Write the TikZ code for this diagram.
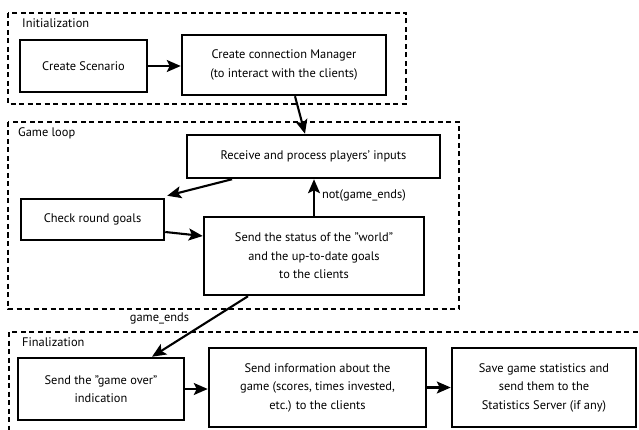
\documentclass[tikz,border=0pt]{standalone}
\usepackage{fontspec}
\setmainfont{PT Sans}
\usetikzlibrary{arrows.meta,positioning}
\tikzset{stepbox/.style={draw, line width=2.5pt, align=center, inner sep=2pt, font=\fontsize{12.4}{18.5}\selectfont},
phase/.style={draw, line width=2.4pt, dash pattern=on 5pt off 3.5pt},
phaselabel/.style={anchor=west, inner sep=0pt, font=\fontsize{12.4}{14}\selectfont},
%arrow tip looks like a filled stealth
flow/.style={-{Stealth[length=14pt,width=12pt,inset=3pt]}, line width=2.1pt}}

\begin{document}
\begin{tikzpicture}[x=1pt, y=-1pt]
\useasboundingbox (0,0) rectangle (639,430);
\clip (0,0) rectangle (639,430);

% the three phases
\draw[phase] (8,13) rectangle (406,104);
\draw[phase] (8,122) rectangle (459,309);
\draw[phase] (9,332) rectangle (660,450);
\node[phaselabel] (initlbl) at (22,23) {Initialization};
\node[phaselabel] (looplbl) at (18,133) {Game loop};
\node[phaselabel] (finlbl) at (22,342) {Finalization};

% initialization
\node[stepbox, minimum width=127pt, minimum height=52pt] (scen) at (83.5,66) {Create Scenario};
\node[stepbox, minimum width=204pt, minimum height=60pt] (cm) at (284,65) {Create connection Manager\\(to interact with the clients)};

% game loop
\node[stepbox, minimum width=253pt, minimum height=43pt] (recv) at (313.5,156.5) {Receive and process players’ inputs};
\node[stepbox, minimum width=143pt, minimum height=41pt] (check) at (92.5,219.5) {Check round goals};
\node[stepbox, minimum width=220pt, minimum height=78pt] (status) at (314,256) {Send the status of the "world"\\and the up-to-date goals\\to the clients};

% finalization
\node[stepbox, minimum width=166pt, minimum height=62pt] (over) at (101,389) {Send the "game over"\\indication};
\node[stepbox, minimum width=217pt, minimum height=79pt] (info) at (317.5,387.5) {Send information about the\\game (scores, times invested,\\etc.) to the clients};
\node[stepbox, minimum width=184pt, minimum height=79pt] (save) at (544,387.5) {Save game statistics and\\send them to the\\Statistics Server (if any)};

\draw[flow] (scen.east) -- (scen.east -| cm.west);
\draw[flow] ([xshift=11pt]cm.south) -- ([xshift=-8.5pt]recv.north);
\draw[flow] ([xshift=-81.5pt]recv.south) -- ([shift={(2pt,2pt)}]check.north east);
\draw[flow] ([yshift=-12.5pt]check.east) -- ([yshift=20pt]status.west);
\draw[flow] (status.north) -- (status.north |- recv.south) node[pos=0.56, right=6pt, inner sep=1pt, font=\fontsize{12.4}{14}\selectfont] {not(game\_ends)};
\draw[flow] ([xshift=-66pt]status.south) -- ([xshift=51pt]over.north) node[pos=0.37, left=19pt, font=\fontsize{12.4}{14}\selectfont] {game\_ends};
\draw[flow] (over.east) -- (over.east -| info.west);
\draw[flow] (info.east) -- (info.east -| save.west);

\end{tikzpicture}
\end{document}
